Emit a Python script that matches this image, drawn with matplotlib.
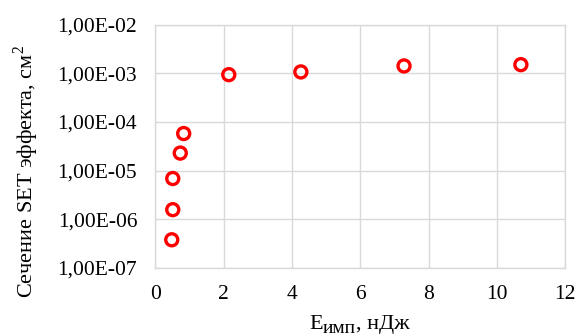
import matplotlib
matplotlib.use("Agg")
import matplotlib.pyplot as plt
from matplotlib.ticker import FixedLocator, NullLocator

# данные: энергия импульса (нДж) и сечение SET эффекта (см^2)
energy = [0.48, 0.51, 0.51, 0.73, 0.83, 2.15, 4.26, 7.28, 10.7]
cross_section = [3.8e-7, 1.58e-6, 6.9e-6, 2.3e-5, 5.8e-5, 9.4e-4, 1.07e-3, 1.42e-3, 1.51e-3]

y_ticks = [1e-7, 1e-6, 1e-5, 1e-4, 1e-3, 1e-2]
y_tick_labels = ["1,00E-07", "1,00E-06", "1,00E-05", "1,00E-04", "1,00E-03", "1,00E-02"]
x_ticks = [0, 2, 4, 6, 8, 10, 12]

plt.rcParams['font.family'] = ['Liberation Serif', 'DejaVu Serif']
plt.rcParams['mathtext.fontset'] = 'custom'
plt.rcParams['mathtext.rm'] = 'Liberation Serif'

fig = plt.figure(figsize=(5.79, 3.36), dpi=100)
ax = fig.add_axes([0.2683, 0.2024, 0.708, 0.7241])

grid_col = '#d9d9d9'
ax.scatter(energy, cross_section, s=75, facecolors='none', edgecolors='#ff0000',
           linewidths=2.4, zorder=3, clip_on=False)

ax.set_yscale('log')
ax.set_ylim(1e-7, 1e-2)
ax.set_xlim(0, 12)
ax.yaxis.set_major_locator(FixedLocator(y_ticks))
ax.yaxis.set_minor_locator(NullLocator())
ax.set_yticks(y_ticks)
ax.set_yticklabels(y_tick_labels)
ax.set_xticks(x_ticks)
ax.set_xticklabels([str(v) for v in x_ticks])

ax.grid(True, color=grid_col, lw=1.0)
ax.set_axisbelow(True)
for sp in ax.spines.values():
    sp.set_color(grid_col)
    sp.set_linewidth(1.0)
ax.tick_params(length=0, labelsize=15.5, colors='black')
ax.tick_params(axis='y', pad=13)
ax.tick_params(axis='x', pad=12)

# подпись оси Y
ax.set_ylabel("Сечение SET эффекта, см$^{2}$", fontsize=16)
ax.yaxis.set_label_coords(-0.28, 0.397)

# подпись оси X с нижним индексом
t1 = fig.text(309 / 579, 1 - 329 / 336, "E", fontsize=16, ha='left', va='baseline')
t2 = ax.annotate("имп", xy=(1, 0), xycoords=t1, xytext=(0.3, -2.0),
                 textcoords='offset points', fontsize=14, ha='left', va='bottom')
ax.annotate(", нДж", xy=(1, 0), xycoords=t2, xytext=(0, 2.0),
            textcoords='offset points', fontsize=16, ha='left', va='bottom')

fig.savefig("out.png", dpi=100)
